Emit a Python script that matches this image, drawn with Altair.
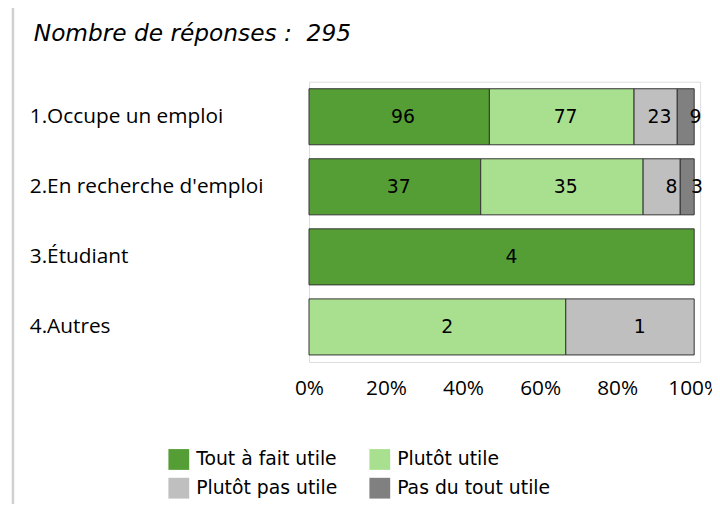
import altair as alt
import pandas as pd

rows = ["1.Occupe un emploi", "2.En recherche d'emploi", "3.Étudiant", "4.Autres"]
categories = ["Tout à fait utile", "Plutôt utile", "Plutôt pas utile", "Pas du tout utile"]
colors = ["#559e35", "#a9e08f", "#bfbfbf", "#808080"]
tout_a_fait = [96, 37, 4, 0]
plutot_utile = [77, 35, 0, 2]
plutot_pas = [23, 8, 0, 1]
pas_du_tout = [9, 3, 0, 0]
subtitle = "Nombre de réponses :\u00a0 295"
tick_values = [0, 0.2, 0.4, 0.6, 0.8, 1.0]

series = [tout_a_fait, plutot_utile, plutot_pas, pas_du_tout]
records = []
for i, r in enumerate(rows):
    for j, c in enumerate(categories):
        records.append({"row": r, "cat": c, "order": j, "n": series[j][i]})
df = pd.DataFrame(records)

xscale = alt.Scale(domain=[0, 1.0154], nice=False, zero=True)
yscale = alt.Scale(domain=rows, paddingInner=0.2, paddingOuter=0.1)

base = (
    alt.Chart(df)
    .transform_filter("datum.n > 0")
    .transform_stack(
        stack="n", groupby=["row"], as_=["x0", "x1"],
        sort=[alt.SortField("order")], offset="normalize",
    )
    .transform_calculate(mid="(datum.x0 + datum.x1) / 2")
)

bars = base.mark_bar(stroke="#333333", strokeWidth=1).encode(
    y=alt.Y("row:N", scale=yscale, axis=None, title=None),
    x=alt.X(
        "x0:Q", scale=xscale, title=None,
        axis=alt.Axis(values=tick_values, format=".0%", domain=False, ticks=False,
                      grid=False, labelFont="Open Sans", labelFontSize=21,
                      labelColor="#000000", labelPadding=16, labelFlush=False,
                      labelOverlap=False, labelBound=False),
    ),
    x2="x1:Q",
    color=alt.Color(
        "cat:N",
        scale=alt.Scale(domain=categories, range=colors),
        legend=alt.Legend(
            title=None, orient="none", legendX=-142, legendY=371, columns=2,
            direction="horizontal",
            symbolType="square", symbolSize=441, symbolStrokeWidth=0,
            labelFont="DejaVu Sans", labelFontSize=19, labelColor="#000000",
            labelOffset=7, columnPadding=32, rowPadding=8,
        ),
    ),
    order=alt.Order("order:Q"),
)

labels = base.mark_text(font="DejaVu Sans", fontSize=19, color="#000000",
                        align="right", dx=16).encode(
    y=alt.Y("row:N", scale=yscale, axis=None),
    x=alt.X("mid:Q", scale=xscale),
    text="n:Q",
)

row_labels = alt.Chart(pd.DataFrame({"row": rows})).mark_text(
    align="left", baseline="middle", font="Open Sans", fontSize=21, color="#000000"
).encode(
    y=alt.Y("row:N", scale=yscale, axis=None),
    x=alt.value(-282),
    text="row:N",
)

sub = alt.Chart(pd.DataFrame({"t": [subtitle]})).mark_text(
    align="left", baseline="alphabetic", font="DejaVu Sans", fontStyle="italic",
    fontSize=23.5, color="#000000"
).encode(x=alt.value(-278), y=alt.value(-41), text="t:N")

vline = alt.Chart(pd.DataFrame({"a": [0]})).mark_rule(color="#d0d0d0", strokeWidth=2.5).encode(
    x=alt.value(-299), y=alt.value(-80), y2=alt.value(440)
)

chart = (
    alt.layer(vline, bars, labels, row_labels, sub)
    .properties(
        width=395, height=283,
        autosize=alt.AutoSizeParams(type="none"),
        padding={"left": 304, "top": 72, "right": 12, "bottom": 141},
    )
    .configure_view(stroke="#000000", strokeWidth=1)
    .configure(background="white")
)

chart.save("out.html", embed_options={"renderer": "svg", "actions": False})
